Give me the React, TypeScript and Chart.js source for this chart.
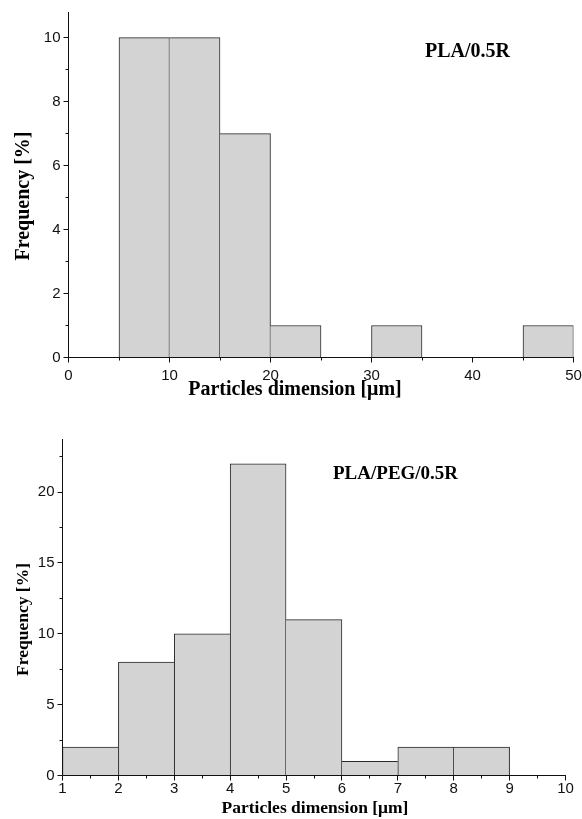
import { useEffect, useRef } from "react";
import { Chart, registerables } from "chart.js";

Chart.register(...registerables);

// PLA/0.5R — particle size histogram, 5 µm bins
const plaBinStarts = [0, 5, 10, 15, 20, 25, 30, 35, 40, 45];
const plaFrequency = [0, 10, 10, 7, 1, 0, 1, 0, 0, 1];
const plaXTicks = [0, 10, 20, 30, 40, 50];
const plaYTicks = [0, 2, 4, 6, 8, 10];

// PLA/PEG/0.5R — particle size histogram, 1 µm bins
const pegBinStarts = [1, 2, 3, 4, 5, 6, 7, 8, 9];
const pegFrequency = [2, 8, 10, 22, 11, 1, 2, 2, 0];
const pegXTicks = [1, 2, 3, 4, 5, 6, 7, 8, 9, 10];
const pegYTicks = [0, 5, 10, 15, 20];

const SERIF = "'Liberation Serif', 'Times New Roman', serif";
const SANS = "'Liberation Sans', Arial, sans-serif";

type TextSpec = { text: string; x: number; y: number; size: number; align?: CanvasTextAlign; rotate?: boolean };

// Draws the axis frame with major/minor tick marks and the bold serif captions.
const framePlugin = {
  id: "histFrame",
  afterDraw(chart: any, _args: any, opts: any) {
    const { ctx, chartArea } = chart;
    const xs = chart.scales.x;
    const ys = chart.scales.y;
    const crisp = (p: number) => Math.round(p - 0.5) + 0.5;
    ctx.save();
    ctx.strokeStyle = "#111";
    ctx.lineWidth = 1;
    ctx.beginPath();
    const ax = crisp(chartArea.left);
    const ay = crisp(chartArea.bottom);
    ctx.moveTo(ax, chartArea.top);
    ctx.lineTo(ax, ay);
    ctx.moveTo(ax, ay);
    ctx.lineTo(chartArea.right + 0.5, ay);

    const minors = (majors: number[], max: number) => {
      const step = majors[1] - majors[0];
      const out: number[] = [];
      for (let v = majors[0] + step / 2; v <= max + 1e-9; v += step) out.push(v);
      return out;
    };
    const MAJ = 5;
    const MIN = 3;
    for (const v of opts.xTicks) {
      const p = crisp(xs.getPixelForValue(v));
      ctx.moveTo(p, ay);
      ctx.lineTo(p, ay + MAJ);
    }
    for (const v of minors(opts.xTicks, xs.max)) {
      const p = crisp(xs.getPixelForValue(v));
      ctx.moveTo(p, ay);
      ctx.lineTo(p, ay + MIN);
    }
    for (const v of opts.yTicks) {
      const p = crisp(ys.getPixelForValue(v));
      ctx.moveTo(ax, p);
      ctx.lineTo(ax - MAJ, p);
    }
    for (const v of minors(opts.yTicks, ys.max)) {
      const p = crisp(ys.getPixelForValue(v));
      ctx.moveTo(ax, p);
      ctx.lineTo(ax - MIN, p);
    }
    ctx.stroke();

    ctx.fillStyle = "#000";
    for (const t of opts.texts as TextSpec[]) {
      ctx.save();
      ctx.font = `bold ${t.size}px ${SERIF}`;
      ctx.translate(t.x, t.y);
      if (t.rotate) {
        ctx.rotate(-Math.PI / 2);
        ctx.textAlign = "center";
        ctx.textBaseline = "middle";
      } else {
        ctx.textAlign = t.align || "center";
        ctx.textBaseline = "alphabetic";
      }
      ctx.fillText(t.text, 0, 0);
      ctx.restore();
    }
    ctx.restore();
  },
};

type HistProps = {
  top: number;
  height: number;
  binStarts: number[];
  binWidth: number;
  values: number[];
  xMin: number;
  xMax: number;
  yMax: number;
  xTicks: number[];
  yTicks: number[];
  padding: { left: number; right: number; top: number; bottom: number };
  xLabelPad: number;
  texts: TextSpec[];
};

function Histogram(props: HistProps) {
  const ref = useRef<HTMLCanvasElement | null>(null);

  useEffect(() => {
    if (!ref.current) return;
    const { values } = props;
    const tickFont = { family: SANS, size: 15 };
    const chart = new Chart(ref.current, {
      type: "bar",
      data: {
        datasets: [
          {
            data: props.binStarts.map((s, i) => ({ x: s + props.binWidth / 2, y: values[i] })),
            backgroundColor: "#d3d3d3",
            borderColor: "#2a2a2a",
            borderWidth: (c: any) => {
              const i = c.dataIndex;
              if (i === undefined) return 1;
              const v = values[i];
              const prev = i > 0 ? values[i - 1] : -1;
              const next = i < values.length - 1 ? values[i + 1] : -1;
              return { top: 1, bottom: 0, left: prev < v ? 1 : 0, right: next > v ? 0 : 1 };
            },
            borderSkipped: "start",
            barPercentage: 1,
            categoryPercentage: 1,
          } as any,
        ],
      },
      options: {
        responsive: false,
        maintainAspectRatio: false,
        animation: false,
        devicePixelRatio: 1,
        layout: { padding: props.padding },
        plugins: {
          legend: { display: false },
          tooltip: { enabled: false },
          histFrame: { xTicks: props.xTicks, yTicks: props.yTicks, texts: props.texts },
        } as any,
        scales: {
          x: {
            type: "linear",
            min: props.xMin,
            max: props.xMax,
            offset: false,
            bounds: "data",
            grid: { display: false, drawTicks: false },
            border: { display: false },
            ticks: { autoSkip: false, maxRotation: 0, padding: props.xLabelPad, font: tickFont, color: "#111" },
            afterBuildTicks: (s: any) => {
              s.ticks = props.xTicks.map((value) => ({ value }));
            },
            afterFit: (s: any) => {
              s.height = 30;
              s.paddingLeft = 0;
              s.paddingRight = 0;
            },
          },
          y: {
            type: "linear",
            min: 0,
            max: props.yMax,
            bounds: "data",
            grid: { display: false, drawTicks: false },
            border: { display: false },
            ticks: { autoSkip: false, padding: 8, font: tickFont, color: "#111" },
            afterBuildTicks: (s: any) => {
              s.ticks = props.yTicks.map((value) => ({ value }));
            },
            afterFit: (s: any) => {
              s.width = 40;
              s.paddingTop = 0;
              s.paddingBottom = 0;
            },
          },
        } as any,
      },
      plugins: [framePlugin],
    });
    return () => chart.destroy();
  }, []);

  return (
    <canvas
      ref={ref}
      width={582}
      height={props.height}
      style={{ position: "absolute", left: 0, top: props.top, width: 582, height: props.height, display: "block" }}
    />
  );
}

export default function App() {
  return (
    <div style={{ position: "absolute", left: 0, top: 0, width: 582, height: 819, background: "#fff" }}>
      <Histogram
        top={0}
        height={400}
        binStarts={plaBinStarts}
        binWidth={5}
        values={plaFrequency}
        xMin={0}
        xMax={50}
        yMax={10.8}
        xTicks={plaXTicks}
        yTicks={plaYTicks}
        padding={{ left: 28.5, right: 8.5, top: 12, bottom: 12.5 }}
        xLabelPad={9.5}
        texts={[
          { text: "Frequency [%]", x: 23.5, y: 196, size: 20, rotate: true },
          { text: "Particles dimension [μm]", x: 295, y: 395, size: 20 },
          { text: "PLA/0.5R", x: 425, y: 57, size: 20, align: "left" },
        ]}
      />
      <Histogram
        top={400}
        height={419}
        binStarts={pegBinStarts}
        binWidth={1}
        values={pegFrequency}
        xMin={1}
        xMax={10}
        yMax={23.75}
        xTicks={pegXTicks}
        yTicks={pegYTicks}
        padding={{ left: 22.5, right: 16.5, top: 39, bottom: 13.5 }}
        xLabelPad={4.5}
        texts={[
          { text: "Frequency [%]", x: 23.5, y: 219.5, size: 17.5, rotate: true },
          { text: "Particles dimension [μm]", x: 315, y: 413, size: 17.5 },
          { text: "PLA/PEG/0.5R", x: 333, y: 79, size: 19, align: "left" },
        ]}
      />
    </div>
  );
}
